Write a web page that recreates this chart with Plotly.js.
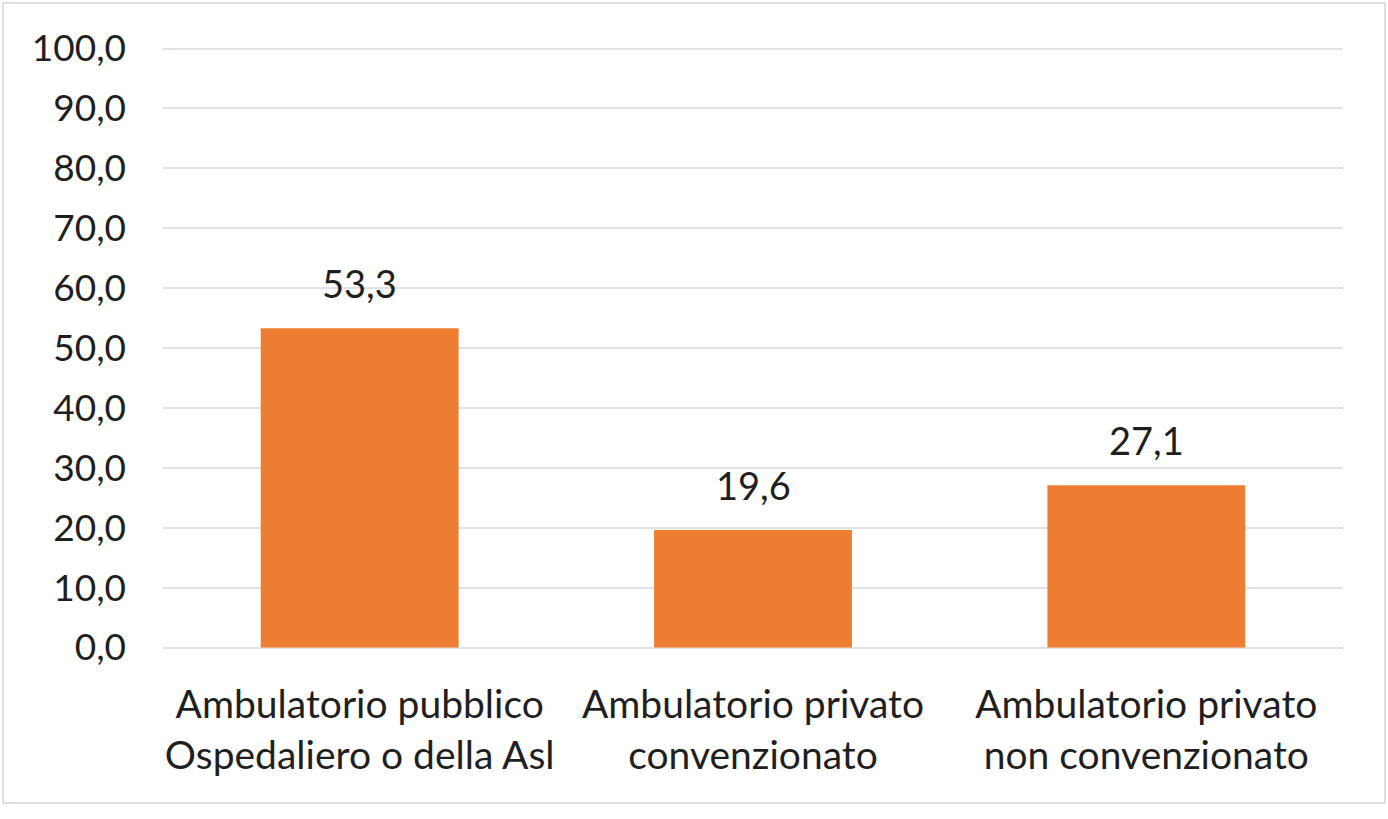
<!DOCTYPE html>
<html>
<head>
<meta charset="utf-8">
<script src="https://cdn.plot.ly/plotly-3.0.1.min.js"></script>
<style>
  html, body { margin: 0; padding: 0; background: #fff; }
  #chart { width: 1388px; height: 819px; position: relative; }
  #frame { position: absolute; left: 2px; top: 2px; width: 1380px; height: 798px;
           border: 2px solid #dde1e7; pointer-events: none; }
</style>
</head>
<body>
<div id="chart"></div>
<div id="frame"></div>
<script>
const categories = [
  "Ambulatorio pubblico<br>Ospedaliero o della Asl",
  "Ambulatorio privato<br>convenzionato",
  "Ambulatorio privato<br>non convenzionato"
];
const values = [53.3, 19.6, 27.1];
const valueLabels = ["53,3", "19,6", "27,1"];
const yTickVals = [0, 10, 20, 30, 40, 50, 60, 70, 80, 90, 100];
const yTickText = ["0,0", "10,0", "20,0", "30,0", "40,0", "50,0", "60,0", "70,0", "80,0", "90,0", "100,0"];

const fontFamily = "Lato, 'Open Sans', sans-serif";
const textColor = "#1f1f1f";

const trace = {
  type: "bar",
  x: categories,
  y: values,
  marker: { color: "#ED7D31" },
  hoverinfo: "skip"
};

const annotations = categories.map((c, i) => ({
  x: c, y: values[i], xref: "x", yref: "y",
  text: valueLabels[i], showarrow: false,
  yanchor: "bottom", yshift: 20,
  font: { family: fontFamily, size: 38, color: textColor }
}));

const layout = {
  width: 1388, height: 819,
  margin: { l: 163, r: 45, t: 47, b: 169.5 },
  paper_bgcolor: "#ffffff",
  plot_bgcolor: "#ffffff",
  bargap: 0.497,
  showlegend: false,
  font: { family: fontFamily, color: textColor },
  xaxis: {
    type: "category",
    showgrid: false,
    zeroline: false,
    showline: false,
    ticks: "",
    ticklabelstandoff: 29,
    tickfont: { family: fontFamily, size: 39, color: textColor }
  },
  yaxis: {
    range: [-0.25, 100.25],
    tickvals: yTickVals,
    ticktext: yTickText,
    showgrid: true,
    gridcolor: "#dfe3e8",
    gridwidth: 2,
    zeroline: false,
    showline: false,
    ticks: "",
    ticklabelstandoff: 36,
    tickfont: { family: fontFamily, size: 37, color: textColor }
  },
  annotations: annotations
};

Plotly.newPlot("chart", [trace], layout, { staticPlot: true, displayModeBar: false });
</script>
</body>
</html>
